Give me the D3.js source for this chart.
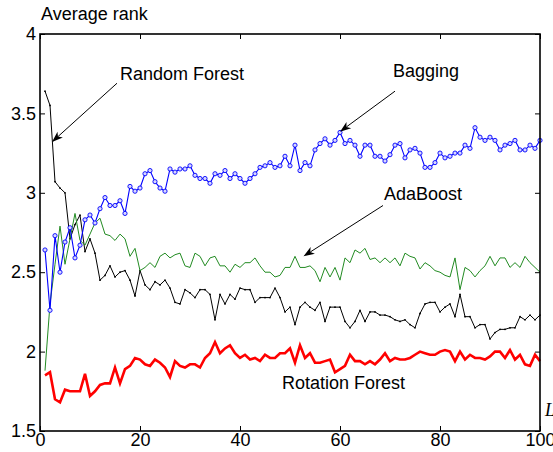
<!DOCTYPE html>
<html>
<head>
<meta charset="utf-8">
<script src="https://cdn.jsdelivr.net/npm/d3@7"></script>
<style>
  body { margin: 0; background: #fff; }
  svg { display: block; font-family: "Liberation Sans", Arial, sans-serif; }
</style>
</head>
<body>
<div id="chart"></div>
<script>
const iterations = d3.range(1, 101);

const bagging = [2.64, 2.26, 2.73, 2.50, 2.69, 2.78, 2.59, 2.67, 2.83, 2.86,
  2.81, 2.90, 2.97, 2.92, 2.92, 2.95, 2.87, 3.04, 3.01, 3.03,
  3.12, 3.14, 3.07, 3.03, 3.01, 3.15, 3.13, 3.15, 3.15, 3.17,
  3.11, 3.09, 3.09, 3.06, 3.12, 3.11, 3.14, 3.09, 3.12, 3.09,
  3.06, 3.09, 3.12, 3.16, 3.17, 3.19, 3.16, 3.17, 3.23, 3.17,
  3.30, 3.14, 3.19, 3.17, 3.27, 3.31, 3.34, 3.30, 3.33, 3.38,
  3.31, 3.33, 3.30, 3.23, 3.30, 3.30, 3.23, 3.23, 3.20, 3.24,
  3.30, 3.31, 3.22, 3.27, 3.28, 3.25, 3.16, 3.16, 3.19, 3.25,
  3.22, 3.23, 3.25, 3.25, 3.30, 3.28, 3.41, 3.35, 3.33, 3.35,
  3.33, 3.27, 3.30, 3.31, 3.33, 3.27, 3.27, 3.30, 3.28, 3.33];

const randomForest = [3.64, 3.55, 3.07, 3.03, 3.00, 2.71, 2.80, 2.86, 2.63, 2.71,
  2.62, 2.45, 2.48, 2.54, 2.47, 2.50, 2.51, 2.45, 2.35, 2.51,
  2.42, 2.39, 2.44, 2.42, 2.45, 2.40, 2.31, 2.30, 2.39, 2.37,
  2.34, 2.39, 2.39, 2.36, 2.20, 2.36, 2.30, 2.36, 2.33, 2.40,
  2.39, 2.39, 2.31, 2.34, 2.34, 2.34, 2.40, 2.34, 2.25, 2.28,
  2.17, 2.28, 2.31, 2.28, 2.26, 2.31, 2.19, 2.28, 2.28, 2.28,
  2.19, 2.15, 2.19, 2.26, 2.19, 2.25, 2.25, 2.23, 2.23, 2.22,
  2.20, 2.19, 2.20, 2.17, 2.15, 2.24, 2.30, 2.31, 2.31, 2.25,
  2.28, 2.30, 2.22, 2.36, 2.22, 2.22, 2.15, 2.17, 2.17, 2.08,
  2.12, 2.14, 2.14, 2.15, 2.15, 2.22, 2.20, 2.23, 2.20, 2.23];

const adaBoost = [1.88, 2.30, 2.55, 2.79, 2.55, 2.71, 2.87, 2.70, 2.67, 2.74,
  2.81, 2.84, 2.74, 2.73, 2.70, 2.74, 2.71, 2.60, 2.65, 2.51,
  2.53, 2.56, 2.53, 2.60, 2.62, 2.59, 2.61, 2.62, 2.54, 2.53,
  2.62, 2.60, 2.54, 2.59, 2.60, 2.54, 2.54, 2.50, 2.55, 2.53,
  2.56, 2.56, 2.59, 2.54, 2.50, 2.50, 2.47, 2.48, 2.53, 2.53,
  2.60, 2.53, 2.53, 2.54, 2.51, 2.44, 2.53, 2.47, 2.53, 2.45,
  2.59, 2.56, 2.64, 2.62, 2.65, 2.58, 2.59, 2.56, 2.59, 2.56,
  2.59, 2.54, 2.62, 2.60, 2.59, 2.52, 2.56, 2.54, 2.51, 2.50,
  2.48, 2.47, 2.59, 2.39, 2.53, 2.51, 2.47, 2.51, 2.54, 2.60,
  2.54, 2.59, 2.59, 2.53, 2.56, 2.53, 2.60, 2.56, 2.53, 2.50];

const rotationForest = [1.85, 1.87, 1.70, 1.68, 1.76, 1.75, 1.75, 1.75, 1.86, 1.72,
  1.75, 1.79, 1.80, 1.80, 1.90, 1.80, 1.89, 1.91, 1.96, 1.95,
  1.92, 1.91, 1.95, 1.93, 1.90, 1.84, 1.94, 1.91, 1.90, 1.92,
  1.92, 1.90, 1.96, 1.99, 2.06, 1.99, 2.02, 2.04, 1.99, 1.96,
  1.98, 1.95, 1.96, 1.94, 1.98, 1.96, 1.96, 1.99, 1.99, 2.02,
  1.93, 2.04, 1.96, 1.99, 1.93, 1.93, 1.94, 1.95, 1.87, 1.89,
  1.91, 1.98, 1.94, 1.94, 1.92, 1.94, 1.92, 1.95, 1.99, 1.94,
  1.96, 1.95, 1.95, 1.96, 1.98, 2.00, 1.99, 1.98, 1.98, 2.00,
  2.01, 2.00, 1.94, 2.00, 1.95, 1.98, 1.96, 1.96, 1.95, 1.97,
  2.00, 2.00, 1.96, 2.01, 1.95, 1.98, 1.92, 1.91, 1.98, 1.94];

const xTicks = [0, 20, 40, 60, 80, 100];
const yTicks = [1.5, 2, 2.5, 3, 3.5, 4];

// labels placed in data units: text anchor, arrow start, arrow tip
const notes = [
  { name: "Random Forest", tx: 16.0, ty: 3.71, from: [15.4, 3.69], to: [2.4, 3.32] },
  { name: "Bagging", tx: 70.6, ty: 3.73, from: [71.0, 3.64], to: [60.0, 3.385] },
  { name: "AdaBoost", tx: 68.8, ty: 2.955, from: [68.6, 2.92], to: [52.7, 2.60] },
  { name: "Rotation Forest", tx: 48.4, ty: 1.765, from: null, to: null }
];

const width = 553;
const height = 452;
const margin = { top: 34, right: 13, bottom: 21, left: 40 };

const svg = d3.select("#chart")
              .append("svg")
              .attr("width", width)
              .attr("height", height);

const x = d3.scaleLinear().domain([0, 100]).range([margin.left, width - margin.right]);
const y = d3.scaleLinear().domain([1.5, 4]).range([height - margin.bottom, margin.top]);

const plot = svg.append("g");

// axes with inward ticks, box around plot
const tickLen = 5;
const axisFont = "18px";

svg.append("g")
   .attr("transform", `translate(0,${y(1.5)})`)
   .call(d3.axisBottom(x).tickValues(xTicks).tickSizeInner(-tickLen).tickSizeOuter(0).tickPadding(2))
   .call(g => g.select(".domain").remove())
   .call(g => g.selectAll("text").attr("font-size", axisFont).attr("font-family", "Liberation Sans, Arial, sans-serif").attr("fill", "#000"));

svg.append("g")
   .attr("transform", `translate(${x(0)},0)`)
   .call(d3.axisLeft(y).tickValues(yTicks).tickFormat(d3.format("")).tickSizeInner(-tickLen).tickSizeOuter(0).tickPadding(4))
   .call(g => g.select(".domain").remove())
   .call(g => g.selectAll("text").attr("font-size", axisFont).attr("font-family", "Liberation Sans, Arial, sans-serif").attr("fill", "#000"));

svg.append("g")
   .attr("transform", `translate(0,${y(4)})`)
   .call(d3.axisTop(x).tickValues(xTicks).tickSizeInner(-tickLen).tickSizeOuter(0).tickFormat(""))
   .call(g => g.select(".domain").remove());

svg.append("g")
   .attr("transform", `translate(${x(100)},0)`)
   .call(d3.axisRight(y).tickValues(yTicks).tickSizeInner(-tickLen).tickSizeOuter(0).tickFormat(""))
   .call(g => g.select(".domain").remove());

svg.selectAll(".tick line").attr("stroke", "#000").attr("stroke-width", 1);

// the four series
const series = [
  { values: randomForest, color: "#000000", width: 1, marker: "dot" },
  { values: adaBoost, color: "#228b22", width: 1, marker: null },
  { values: rotationForest, color: "#ff0000", width: 2.6, marker: null },
  { values: bagging, color: "#0000ff", width: 1.1, marker: "circle" }
];

const line = d3.line()
               .x((d, i) => x(iterations[i]))
               .y(d => y(d));

series.forEach(s => {
  plot.append("path")
      .datum(s.values)
      .attr("fill", "none")
      .attr("stroke", s.color)
      .attr("stroke-width", s.width)
      .attr("stroke-linejoin", "miter")
      .attr("d", line);

  if (s.marker === "circle") {
    plot.selectAll(null)
        .data(s.values)
        .enter()
        .append("circle")
        .attr("cx", (d, i) => x(iterations[i]))
        .attr("cy", d => y(d))
        .attr("r", 2.1)
        .attr("fill", "#d8d8ff")
        .attr("stroke", s.color)
        .attr("stroke-width", 0.9);
  } else if (s.marker === "dot") {
    plot.selectAll(null)
        .data(s.values)
        .enter()
        .append("circle")
        .attr("cx", (d, i) => x(iterations[i]))
        .attr("cy", d => y(d))
        .attr("r", 0.9)
        .attr("fill", s.color);
  }
});

// box
svg.append("rect")
   .attr("x", x(0))
   .attr("y", y(4))
   .attr("width", x(100) - x(0))
   .attr("height", y(1.5) - y(4))
   .attr("fill", "none")
   .attr("stroke", "#000")
   .attr("stroke-width", 1.6);

// annotations
notes.forEach(n => {
  svg.append("text")
     .attr("x", x(n.tx))
     .attr("y", y(n.ty))
     .attr("font-size", "18px")
     .text(n.name);

  if (n.from) {
    const x0 = x(n.from[0]), y0 = y(n.from[1]);
    const x1 = x(n.to[0]), y1 = y(n.to[1]);
    const ang = Math.atan2(y1 - y0, x1 - x0);
    const len = 11, half = 4, notch = 8;
    const bx = x1 - len * Math.cos(ang), by = y1 - len * Math.sin(ang);
    const nx = x1 - notch * Math.cos(ang), ny = y1 - notch * Math.sin(ang);
    const px = -Math.sin(ang) * half, py = Math.cos(ang) * half;

    svg.append("line")
       .attr("x1", x0).attr("y1", y0)
       .attr("x2", nx).attr("y2", ny)
       .attr("stroke", "#000")
       .attr("stroke-width", 1);

    svg.append("path")
       .attr("d", `M${x1},${y1}L${bx + px},${by + py}L${nx},${ny}L${bx - px},${by - py}Z`)
       .attr("fill", "#000");
  }
});

// axis titles
svg.append("text")
   .attr("x", 41)
   .attr("y", 20)
   .attr("font-size", "18px")
   .text("Average rank");

svg.append("text")
   .attr("x", x(100) + 5)
   .attr("y", y(1.5) - 15)
   .attr("font-size", "18px")
   .attr("font-family", "Liberation Serif, DejaVu Serif, serif")
   .attr("font-style", "italic")
   .text("L");
</script>
</body>
</html>
